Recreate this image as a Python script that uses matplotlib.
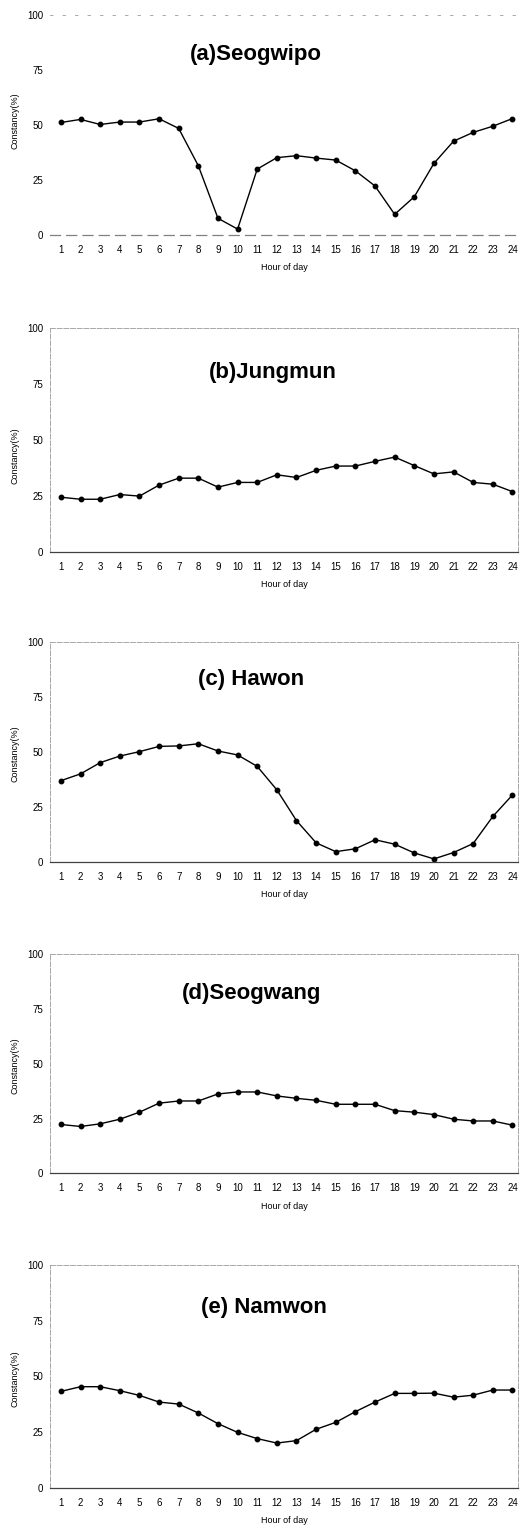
import matplotlib.pyplot as plt

plt.rcParams['font.family'] = ['Liberation Sans', 'DejaVu Sans']

# Hourly constancy (%) per station
hours = list(range(1, 25))
seogwipo = [51.2, 52.6, 50.3, 51.4, 51.4, 52.9, 48.5, 31.5, 7.6, 2.7, 30.0, 35.2,
            36.1, 35.0, 34.1, 29.2, 22.3, 9.4, 17.4, 32.6, 42.7, 46.7, 49.5, 53.0]
jungmun = [24.6, 23.7, 23.7, 25.8, 25.1, 30.0, 33.1, 33.1, 29.1, 31.2, 31.2, 34.6,
           33.4, 36.6, 38.5, 38.5, 40.6, 42.5, 38.7, 35.0, 35.9, 31.2, 30.4, 27.1]
hawon = [37.1, 40.2, 45.3, 48.3, 50.3, 52.7, 52.9, 53.9, 50.6, 48.8, 43.6, 32.9,
         18.9, 8.8, 4.8, 6.1, 10.2, 8.2, 4.2, 1.5, 4.4, 8.5, 20.8, 30.6]
seogwang = [22.3, 21.4, 22.6, 24.7, 27.9, 32.0, 33.0, 33.0, 36.2, 37.1, 37.1, 35.3,
            34.2, 33.3, 31.5, 31.5, 31.5, 28.6, 27.9, 26.8, 24.7, 23.9, 23.9, 22.0]
namwon = [43.3, 45.4, 45.4, 43.6, 41.5, 38.5, 37.6, 33.6, 28.8, 24.9, 22.1, 20.1,
          21.2, 26.3, 29.4, 34.2, 38.5, 42.4, 42.4, 42.5, 40.7, 41.6, 43.9, 43.9]

titles = ["(a)Seogwipo", "(b)Jungmun", "(c) Hawon", "(d)Seogwang", "(e) Namwon"]
series = [seogwipo, jungmun, hawon, seogwang, namwon]

# layout of the panels (figure fractions) and title / ylabel positions
boxes = [[0.096, 0.846, 0.897, 0.144],
         [0.096, 0.638, 0.897, 0.147],
         [0.096, 0.435, 0.897, 0.144],
         [0.096, 0.231, 0.897, 0.144],
         [0.096, 0.025, 0.897, 0.146]]
title_pos = [(0.44, 0.82), (0.475, 0.80), (0.43, 0.83), (0.43, 0.82), (0.457, 0.81)]
ylab_pos = [0.52, 0.43, 0.495, 0.49, 0.49]

fig = plt.figure(figsize=(5.22, 15.26), dpi=100)

for i in range(5):
    ax = fig.add_axes(boxes[i])
    ax.plot(hours, series[i], color='black', linewidth=1.0,
            marker='o', markersize=3.2)
    ax.set_xlim(0.45, 24.3)
    ax.set_ylim(0, 100)
    ax.set_xticks(hours)
    ax.set_yticks([0, 25, 50, 75, 100])
    ax.tick_params(length=0, labelsize=7, pad=7)
    ax.tick_params(axis='y', pad=5)

    for side in ['top', 'left', 'right']:
        ax.spines[side].set_color('0.6')
        ax.spines[side].set_linewidth(0.6)
        ax.spines[side].set_linestyle((0, (6, 2)))
    ax.spines['bottom'].set_color('0.25')
    ax.spines['bottom'].set_linewidth(0.9)
    if i == 0:
        ax.spines['left'].set_visible(False)
        ax.spines['right'].set_visible(False)
        ax.spines['top'].set_linestyle((0, (3, 12)))
        ax.spines['bottom'].set_color('0.5')
        ax.spines['bottom'].set_linestyle((0, (8, 5)))

    ax.text(title_pos[i][0], title_pos[i][1], titles[i], transform=ax.transAxes,
            ha='center', va='center', fontsize=16, fontweight='bold')
    ax.set_xlabel("Hour of day", fontsize=6.5, labelpad=6)
    ax.set_ylabel("Constancy(%)", fontsize=6.5)
    ax.yaxis.set_label_coords(-0.065, ylab_pos[i])

fig.savefig("out.png", dpi=100)
